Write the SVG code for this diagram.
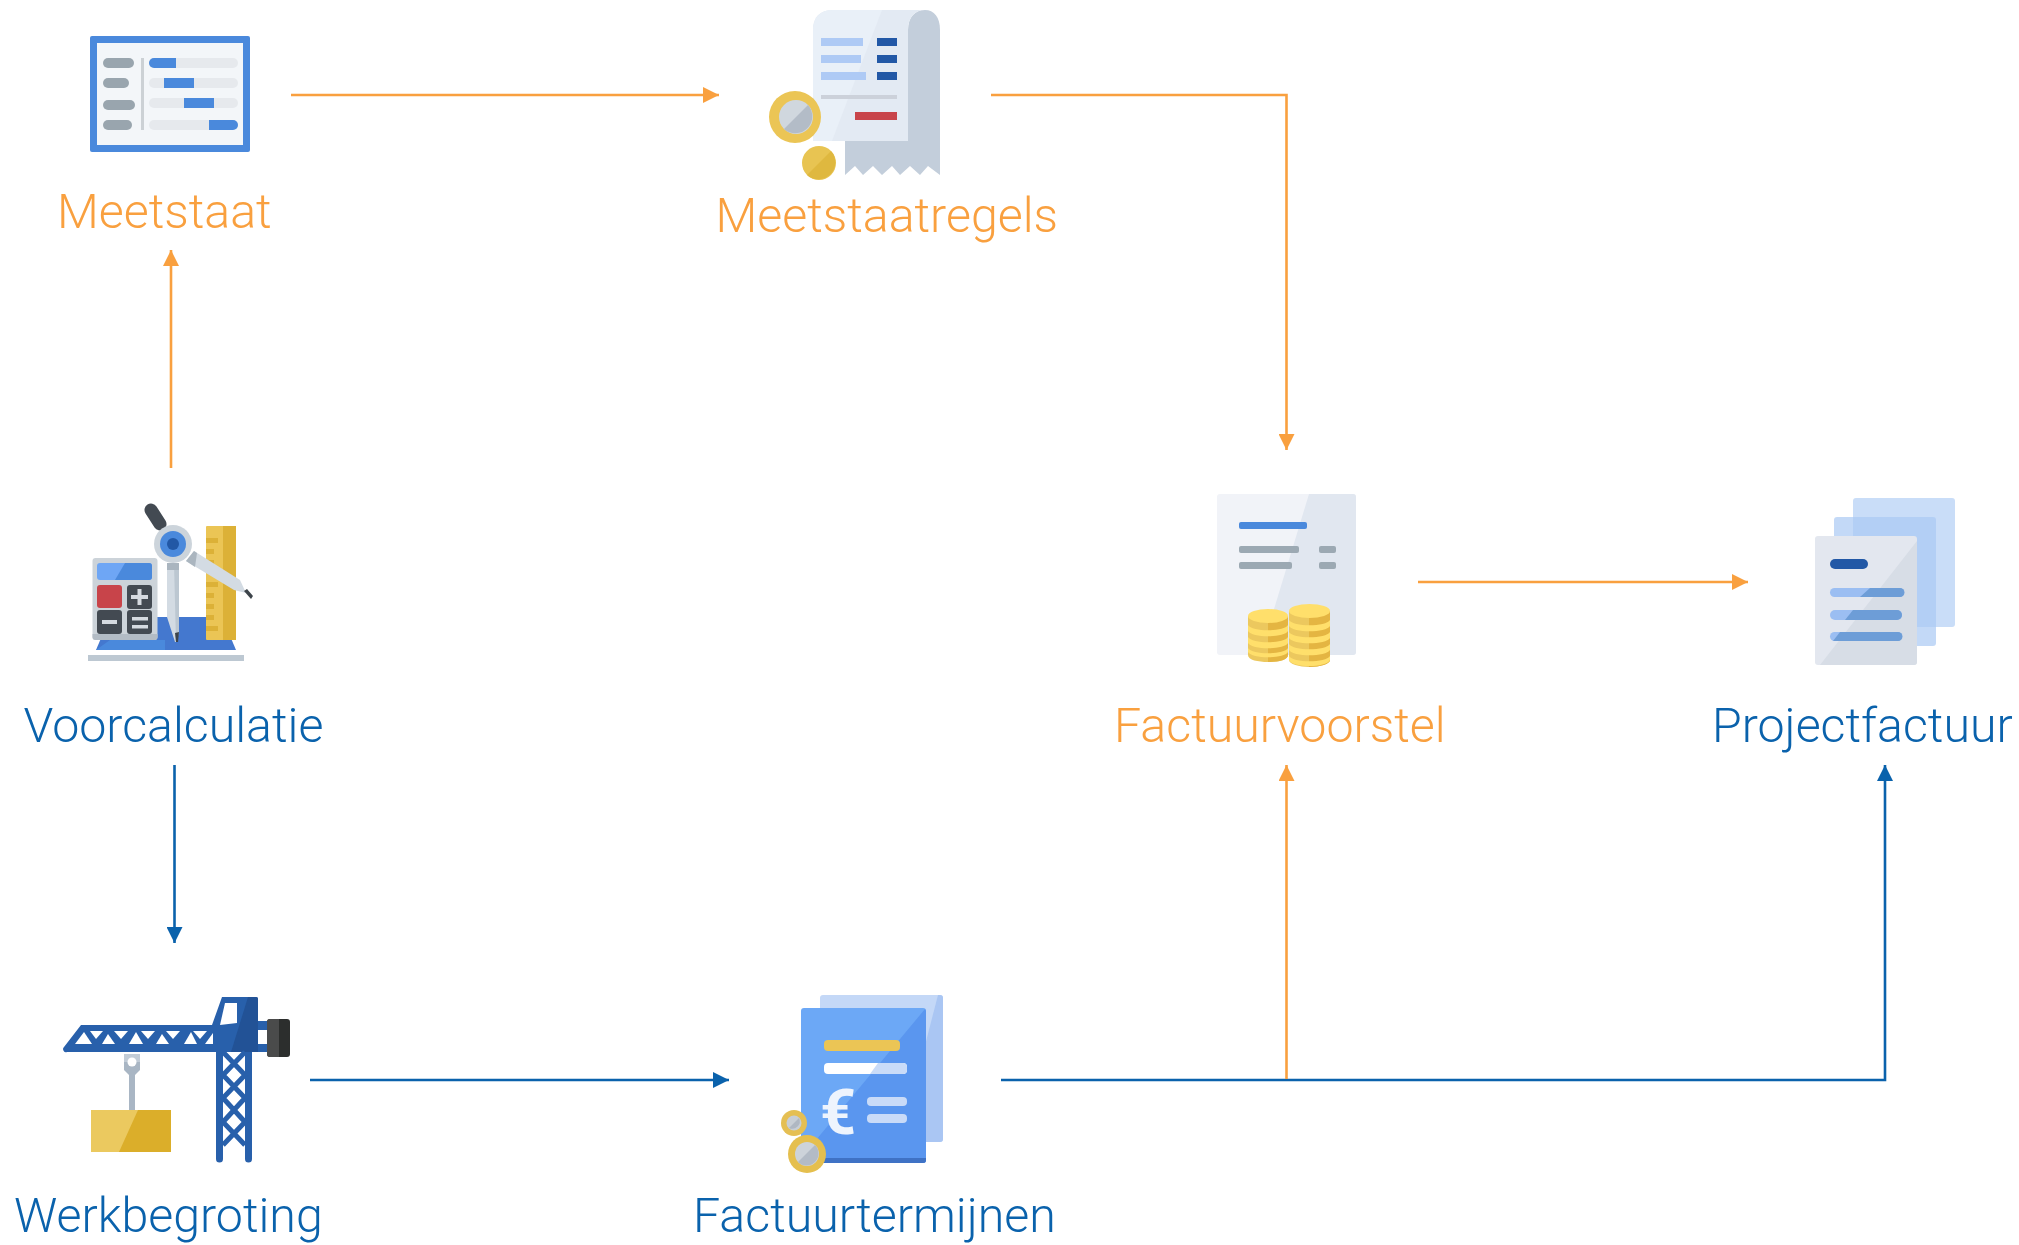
<svg xmlns="http://www.w3.org/2000/svg" width="2019" height="1245" viewBox="0 0 2019 1245">
<style>
text{font-family:Roboto,"Liberation Sans",sans-serif;font-weight:300;font-size:48.300px}
.o{fill:#f9a03f}.b{fill:#0a62ac}
.lo{fill:none;stroke:#f9a03f;stroke-width:2.600}
.lb{fill:none;stroke:#0a62ac;stroke-width:2.600}
</style>
<defs>
<marker id="ao" markerUnits="userSpaceOnUse" markerWidth="16" markerHeight="16" refX="16" refY="8" orient="auto"><path d="M0 0L16 8L0 16Z" fill="#f9a03f"/></marker>
<marker id="ab" markerUnits="userSpaceOnUse" markerWidth="16" markerHeight="16" refX="16" refY="8" orient="auto"><path d="M0 0L16 8L0 16Z" fill="#0a62ac"/></marker>
</defs>
<rect width="2019" height="1245" fill="#fff"/>
<g id="connectors">
<path class="lo" marker-end="url(#ao)" d="M291 95H719"/>
<path class="lo" marker-end="url(#ao)" d="M991 95H1286.500V450"/>
<path class="lo" marker-end="url(#ao)" d="M1418 582H1748"/>
<path class="lo" marker-end="url(#ao)" d="M171 468V250"/>
<path class="lb" marker-end="url(#ab)" d="M174.500 765V943"/>
<path class="lb" marker-end="url(#ab)" d="M310 1080H729"/>
<path class="lb" marker-end="url(#ab)" d="M1001 1080H1885V765"/>
<path class="lo" marker-end="url(#ao)" d="M1286.500 1079V765"/>
</g>
<g id="meetstaat">
<rect x="90" y="36" width="160" height="116" rx="2" fill="#4a89dc"/>
<rect x="97" y="43" width="146" height="102" fill="#f3f6f9"/>
<g fill="#99a5ae"><rect x="103" y="58" width="31" height="10" rx="5"/><rect x="103" y="78" width="26" height="10" rx="5"/><rect x="103" y="100" width="32" height="10" rx="5"/><rect x="103" y="120" width="29" height="10" rx="5"/></g>
<rect x="141" y="58" width="3" height="72" fill="#ccd1d5"/>
<g fill="#e6e9ed"><rect x="149" y="58" width="89" height="10" rx="5"/><rect x="149" y="78" width="89" height="10" rx="5"/><rect x="149" y="98" width="89" height="10" rx="5"/><rect x="149" y="120" width="89" height="10" rx="5"/></g>
<g fill="#4a89dc"><path d="M176 58H154a5 5 0 0 0 0 10H176Z"/><rect x="164" y="78" width="30" height="10"/><rect x="184" y="98" width="30" height="10"/><path d="M209 120H233a5 5 0 0 1 0 10H209Z"/></g>
<text class="o" x="57" y="228">Meetstaat</text>
</g>
<g id="meetstaatregels">
<path d="M845 30H940V175L928 166L920 175L910 166L900 175L892 166L882 175L873 166L863 175L855 166L845 175Z" fill="#c3cedb"/>
<path d="M908 30C908 17 915 10 925 10C934 10 940 17 940 30Z" fill="#c3cedb"/>
<path d="M833 10H925C914 10 908 18 908 30V141H813V30C813 17 820 10 833 10Z" fill="#e3eaf3"/>
<path d="M833 10H882L832 141H813V30C813 17 820 10 833 10Z" fill="#e9f0f8"/>
<g fill="#aecaf5"><rect x="821" y="38" width="42" height="8"/><rect x="821" y="55" width="40" height="8"/><rect x="821" y="72" width="45" height="8"/></g>
<g fill="#2258a6"><rect x="877" y="38" width="20" height="8"/><rect x="877" y="55" width="20" height="8"/><rect x="877" y="72" width="20" height="8"/></g>
<rect x="821" y="95" width="76" height="4" fill="#ccd1da"/>
<rect x="855" y="112" width="42" height="8" fill="#c8444a"/>
<circle cx="795" cy="117" r="26" fill="#ebc555"/>
<circle cx="796" cy="117" r="17" fill="#d0d7de"/>
<path d="M808 105A17 17 0 0 1 784 129Z" fill="#b3bcc7"/>
<circle cx="819" cy="163" r="17" fill="#e8c452"/>
<path d="M831 151A17 17 0 0 1 807 175Z" fill="#dfb83f"/>
<text class="o" x="715.500" y="232">Meetstaatregels</text>
</g>
<g id="voorcalculatie">
<rect x="88" y="655" width="156" height="6" fill="#bdc8d2"/>
<path d="M96 650L110 617H222L236 650Z" fill="#4478cf"/>
<path d="M96 650L110 640H165V650Z" fill="#4a89dc"/>
<rect x="206" y="526" width="30" height="114" rx="1" fill="#ebc555"/>
<rect x="223" y="526" width="13" height="114" fill="#dcb137"/>
<g fill="#dcb137"><rect x="206" y="538" width="12" height="5"/><rect x="206" y="549" width="8" height="5"/><rect x="206" y="560" width="8" height="5"/><rect x="206" y="582" width="12" height="5"/><rect x="206" y="593" width="8" height="5"/><rect x="206" y="604" width="8" height="5"/><rect x="206" y="615" width="8" height="5"/><rect x="206" y="626" width="12" height="5"/></g>
<rect x="92.500" y="558" width="65" height="82" rx="3" fill="#ccd3d9"/>
<path d="M92.500 634H157.500V637a3 3 0 0 1-3 3H95.500a3 3 0 0 1-3-3Z" fill="#b3bcc5"/>
<rect x="97" y="563" width="55" height="17" rx="3" fill="#6ea6f5"/>
<path d="M115 580L125 563H149a3 3 0 0 1 3 3V577a3 3 0 0 1-3 3Z" fill="#4a89dc"/>
<rect x="97" y="585" width="25" height="23" rx="3" fill="#c8444a"/>
<g fill="#434a52"><rect x="127" y="585" width="25" height="24" rx="3"/><rect x="97" y="610" width="25" height="24" rx="3"/><rect x="127" y="610" width="25" height="24" rx="3"/></g>
<g fill="#d5dae0"><rect x="131" y="595" width="17" height="4"/><rect x="137.500" y="589" width="4" height="16"/><rect x="102" y="620" width="15" height="4"/><rect x="132" y="617" width="16" height="3.500"/><rect x="132" y="625" width="16" height="3.500"/></g>
<path d="M167 563H179V630L177 642H175L167 617Z" fill="#d3dbe3"/>
<path d="M174 563H179V630L177 642L176 642Z" fill="#bcc7d1"/>
<path d="M175 633L179 632L178 642H176Z" fill="#3d444a"/>
<rect x="167" y="563" width="12" height="7" fill="#aab5bf"/>
<path d="M186 561L194 551L240 580L246 593L234 590Z" fill="#d3dbe3"/>
<path d="M186 561L194 551L197 553L195 567Z" fill="#aab5bf"/>
<path d="M244 591L247 589L253 596L251 599Z" fill="#3d444a"/>
<path d="M160 525L165 533" stroke="#aab5bf" stroke-width="6" fill="none"/>
<path d="M151 510L160 524" stroke="#434a52" stroke-width="13" stroke-linecap="round" fill="none"/>
<circle cx="173" cy="544" r="19" fill="#ccd4db"/>
<circle cx="173" cy="544" r="13" fill="#4a89dc"/>
<circle cx="173" cy="544" r="6" fill="#2258a6"/>
<text class="b" x="23.500" y="742">Voorcalculatie</text>
</g>
<g id="werkbegroting">
<path d="M64 1047L81 1025H212L222 997H256a2 2 0 0 1 2 2V1052H67a3 3 0 0 1-3-5Z" fill="#2860ab"/>
<path d="M225 1003H237V1023L220 1025Z" fill="#fff"/>
<path d="M231 1052L248 997H256a2 2 0 0 1 2 2V1052Z" fill="#225296"/>
<g fill="#fff"><path d="M75 1044L84 1032L92 1044Z"/><path d="M102 1044L108 1034L115 1044Z"/><path d="M129 1044L136 1032L143 1044Z"/><path d="M156 1044L162 1034L169 1044Z"/><path d="M184 1044L191 1032L197 1044Z"/><path d="M205 1044L213 1033V1044Z"/><path d="M90 1031H103L96 1039Z"/><path d="M114 1031H128L121 1039Z"/><path d="M141 1031H155L148 1039Z"/><path d="M166 1031H180L173 1039Z"/><path d="M193 1031H207L200 1039Z"/></g>
<rect x="258" y="1030" width="10" height="14" fill="#fff"/><path d="M258 1030H268V1021H258ZM258 1044H268V1052H258Z" fill="#2860ab"/>
<rect x="267" y="1019" width="23" height="38" rx="3" fill="#2c2e2d"/>
<path d="M270 1019H279V1057H270a3 3 0 0 1-3-3V1022a3 3 0 0 1 3-3Z" fill="#4a4b4b"/>
<path d="M216 1052H223V1159a3.500 3.500 0 0 1-7 0ZM245 1052H252V1159a3.500 3.500 0 0 1-7 0Z" fill="#2860ab"/>
<path d="M223 1052L245 1075L223 1098L245 1122L223 1145M245 1052L223 1075L245 1098L223 1122L245 1145" fill="none" stroke="#2860ab" stroke-width="5"/>
<rect x="129" y="1075" width="6" height="36" fill="#a9b6c4"/>
<path d="M124 1054H140V1070L135 1075H129L124 1070Z" fill="#a9b6c4"/>
<path d="M124 1054H140V1062H124Z" fill="#c2ccd7"/><circle cx="132" cy="1062" r="4.500" fill="#fff"/>
<rect x="91" y="1110" width="80" height="42" fill="#ebc95f"/>
<path d="M138 1110H171V1152H119Z" fill="#dbae2a"/>
<text class="b" x="14" y="1232">Werkbegroting</text>
</g>
<g id="factuurtermijnen">
<rect x="820" y="995" width="123" height="147" rx="3" fill="#c4d8f7"/>
<path d="M943 998V1139a3 3 0 0 1-3 3H900L938 995H940a3 3 0 0 1 3 3Z" fill="#aac6f3"/>
<rect x="801" y="1008" width="125" height="155" rx="3" fill="#6ca8f6"/>
<path d="M926 1011V1160a3 3 0 0 1-3 3H801V1158L925 1009Z" fill="#5a96ef"/>
<path d="M810 1158H926V1160a3 3 0 0 1-3 3H810Z" fill="#3f72c5"/>
<rect x="824" y="1040" width="76" height="11" rx="4" fill="#ebc555"/>
<rect x="824" y="1063" width="83" height="11" rx="4" fill="#fff"/>
<path d="M878 1063H903a4 4 0 0 1 4 4V1070a4 4 0 0 1-4 4H870Z" fill="#c9dbf8"/>
<text x="820" y="1134" style="font-size:63px;font-weight:700;fill:#eef4fd">€</text>
<rect x="867" y="1097" width="40" height="9" rx="4" fill="#c9dbf8"/>
<rect x="867" y="1114" width="40" height="9" rx="4" fill="#c9dbf8"/>
<circle cx="794" cy="1123" r="13" fill="#e5bf53"/><circle cx="794" cy="1123" r="7.500" fill="#c8ced5"/>
<path d="M799 1118A7.500 7.500 0 0 1 789 1128Z" fill="#afb7c2"/>
<circle cx="807" cy="1154" r="19" fill="#e5bf4e"/><circle cx="807" cy="1154" r="12" fill="#cdd3da"/>
<path d="M815 1145A12 12 0 0 1 798 1162Z" fill="#b3bbc6"/>
<text class="b" x="693" y="1232">Factuurtermijnen</text>
</g>
<g id="factuurvoorstel">
<rect x="1217" y="494" width="139" height="161" rx="3" fill="#f1f3f8"/>
<path d="M1309 494H1353a3 3 0 0 1 3 3V652a3 3 0 0 1-3 3H1260Z" fill="#e1e7f0"/>
<rect x="1239" y="522" width="68" height="7" rx="2" fill="#4a89dc"/>
<g fill="#9ca9b3"><rect x="1239" y="546" width="60" height="7" rx="2"/><rect x="1319" y="546" width="17" height="7" rx="2"/><rect x="1239" y="562" width="53" height="7" rx="2"/><rect x="1319" y="562" width="17" height="7" rx="2"/></g>
<path d="M1248 616H1288V655C1288 660 1278 662 1268 662C1258 662 1248 660 1248 655Z" fill="#ecc85e"/>
<path d="M1268 616H1288V655C1288 660 1278 662 1268 662Z" fill="#e4b542"/>
<g fill="#ffdf6b"><path d="M1248 625C1252 632 1284 632 1288 625V631C1284 638 1252 638 1248 631Z"/><path d="M1248 637C1252 644 1284 644 1288 637V643C1284 650 1252 650 1248 643Z"/><path d="M1248 648C1252 655 1284 655 1288 648V652C1284 659 1252 659 1248 652Z"/></g>
<ellipse cx="1268" cy="616" rx="20" ry="7" fill="#ffdf6b"/>
<path d="M1289 611H1330V660C1330 664 1320 667 1309.500 667C1299 667 1289 664 1289 660Z" fill="#ecc85e"/>
<path d="M1309 611H1330V660C1330 664 1320 667 1309 667Z" fill="#e4b542"/>
<g fill="#ffdf6b"><path d="M1289 620C1293 627 1326 627 1330 620V626C1326 633 1293 633 1289 626Z"/><path d="M1289 632C1293 639 1326 639 1330 632V638C1326 645 1293 645 1289 638Z"/><path d="M1289 644C1293 651 1326 651 1330 644V650C1326 657 1293 657 1289 650Z"/></g>
<path d="M1289 656C1293 663 1326 663 1330 656V660C1326 668 1293 668 1289 660Z" fill="#ffdf6b"/>
<ellipse cx="1309.500" cy="611" rx="20.500" ry="7" fill="#ffdf6b"/>
<text class="o" x="1114" y="742">Factuurvoorstel</text>
</g>
<g id="projectfactuur">
<rect x="1853" y="498" width="102" height="129" rx="3" fill="#c9ddf8"/>
<rect x="1834" y="517" width="102" height="129" rx="3" fill="#a9c9f4" fill-opacity=".7"/>
<rect x="1815" y="536" width="102" height="129" rx="3" fill="#e3e7ef"/>
<path d="M1917 541V662a3 3 0 0 1-3 3H1820Z" fill="#d7dde6"/>
<rect x="1830" y="559" width="38" height="10" rx="5" fill="#2258a6"/>
<g fill="#9bbef2"><rect x="1830" y="588" width="74" height="9" rx="4.500"/><rect x="1830" y="610" width="72" height="10" rx="5"/><rect x="1830" y="632" width="72" height="9" rx="4.500"/></g>
<g fill="#6d9dd7"><path d="M1870 588H1900a4.500 4.500 0 0 1 0 9H1860Z"/><path d="M1853 610H1897a5 5 0 0 1 0 10H1845Z"/><path d="M1840 632H1898a4.500 4.500 0 0 1 0 9H1833Z"/></g>
<text class="b" x="1712" y="742">Projectfactuur</text>
</g>
</svg>
